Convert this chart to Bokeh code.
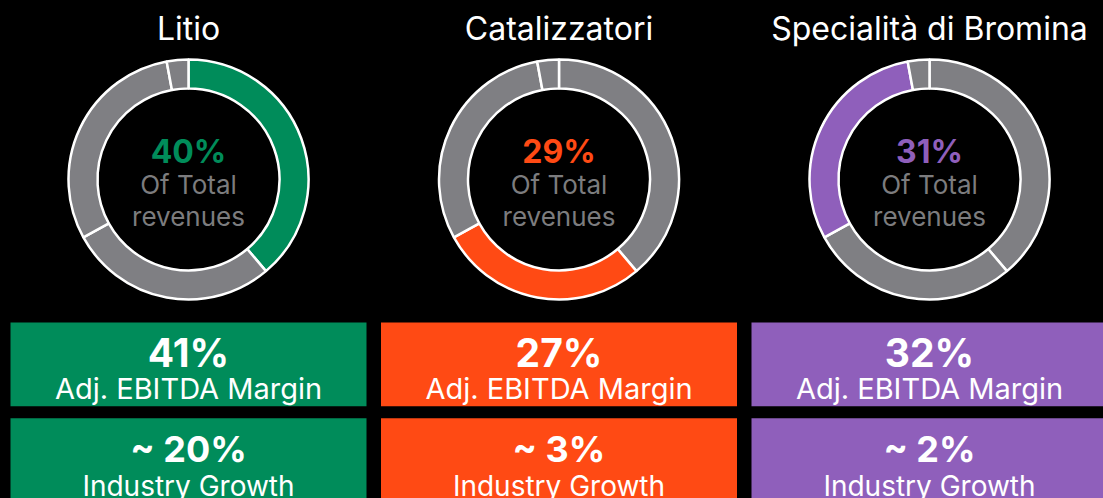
import numpy as np
from bokeh.plotting import figure
from bokeh.models import ColumnDataSource, Range1d, GlobalInlineStyleSheet
from bokeh.core.properties import value
from bokeh.embed import file_html
from bokeh.resources import INLINE

# ---- data ----
segments = ["Litio", "Catalizzatori", "Specialità di Bromina", "Altro"]
revenue_share = [40, 29, 31, 3]
titles = ["Litio", "Catalizzatori", "Specialità di Bromina"]
center_labels = ["40%", "29%", "31%"]
ebitda_margin = ["41%", "27%", "32%"]
industry_growth = ["~ 20%", "~ 3%", "~ 2%"]
highlight_colors = ["#008c5a", "#ff4a14", "#8f5fbb"]
GRAY = "#7f7f83"
FONT = "Inter"

# ---- layout (page pixel coordinates; data y = 498 - page y) ----
W, H = 1103, 498
SHIFT = 9.5
def Y(py):
    return H - py

def TY(py):
    return H - (py - SHIFT)

COL0, COLSTEP = 188, 370.5
DONUT_CY = 179
R_OUT, R_IN = 120, 91
BOX_W = 356

p = figure(width=W, height=H, x_range=Range1d(0, W), y_range=Range1d(0, H),
           output_backend="svg", toolbar_location=None,
           min_border=0, min_border_left=0, min_border_right=0,
           min_border_top=0, min_border_bottom=0)
p.axis.visible = False
p.grid.visible = False
p.outline_line_color = None
p.background_fill_color = "black"
p.border_fill_color = "black"
p.stylesheets = [GlobalInlineStyleSheet(css="html, body { background-color: #000; }")]

# ---- donuts ----
shares = np.array(revenue_share, dtype=float)
frac = shares / shares.sum()
cum = np.concatenate([[0], np.cumsum(frac)])
wx, wy, ws, we, wc = [], [], [], [], []
for i in range(len(titles)):
    cx = COL0 + i * COLSTEP
    for j in range(len(segments)):
        wx.append(cx)
        wy.append(Y(DONUT_CY))
        ws.append(np.pi / 2 - cum[j] * 2 * np.pi)
        we.append(np.pi / 2 - cum[j + 1] * 2 * np.pi)
        wc.append(highlight_colors[i] if j == i else GRAY)
wsrc = ColumnDataSource(dict(x=wx, y=wy, s=ws, e=we, c=wc))
p.annular_wedge(x="x", y="y", inner_radius=R_IN, outer_radius=R_OUT,
                start_angle="s", end_angle="e", direction="clock",
                fill_color="c", line_color="white", line_width=2.5, source=wsrc)

xs = [COL0 + i * COLSTEP for i in range(len(titles))]

# titles
p.text(x=xs, y=[TY(37)] * 3, text=titles, text_font=value(FONT), text_font_size="32px",
       text_align="center", text_baseline="alphabetic", text_color="white")
# center labels
p.text(x=xs, y=[TY(160)] * 3, text=center_labels, text_font=value(FONT), text_font_size="32px",
       text_font_style="bold", text_align="center", text_baseline="alphabetic",
       text_color=highlight_colors)
p.text(x=xs, y=[TY(193.5)] * 3, text=["Of Total"] * 3, text_font=value(FONT), text_font_size="26px",
       text_align="center", text_baseline="alphabetic", text_color="#7c7c7e")
p.text(x=xs, y=[TY(225)] * 3, text=["revenues"] * 3, text_font=value(FONT), text_font_size="26px",
       text_align="center", text_baseline="alphabetic", text_color="#7c7c7e")

# ---- boxes ----
p.quad(left=[x - BOX_W / 2 for x in xs], right=[x + BOX_W / 2 for x in xs],
       top=[Y(322)] * 3, bottom=[Y(405.7)] * 3, fill_color=highlight_colors, line_color=None)
p.quad(left=[x - BOX_W / 2 for x in xs], right=[x + BOX_W / 2 for x in xs],
       top=[Y(417.7)] * 3, bottom=[Y(510)] * 3, fill_color=highlight_colors, line_color=None)

p.text(x=xs, y=[TY(361.5)] * 3, text=ebitda_margin, text_font=value(FONT), text_font_size="39px",
       text_font_style="bold", text_align="center", text_baseline="alphabetic", text_color="white")
p.text(x=xs, y=[TY(397.5)] * 3, text=["Adj. EBITDA Margin"] * 3, text_font=value(FONT),
       text_font_size="29px", text_align="center", text_baseline="alphabetic", text_color="white")
p.text(x=xs, y=[TY(457.7)] * 3, text=industry_growth, text_font=value(FONT), text_font_size="36px",
       text_font_style="bold", text_align="center", text_baseline="alphabetic", text_color="white")
p.text(x=xs, y=[TY(495)] * 3, text=["Industry Growth"] * 3, text_font=value(FONT),
       text_font_size="28px", text_align="center", text_baseline="alphabetic", text_color="white")

open("out.html", "w").write(file_html(p, INLINE))
